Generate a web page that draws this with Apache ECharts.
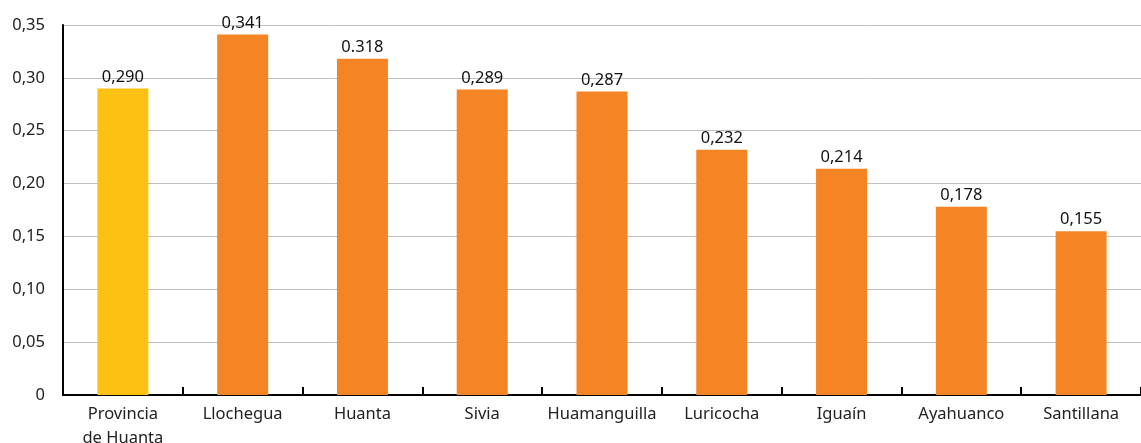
<!DOCTYPE html>
<html>
<head>
<meta charset="utf-8">
<script src="https://cdn.jsdelivr.net/npm/echarts@6/dist/echarts.min.js"></script>
<style>
  html, body { margin: 0; padding: 0; background: #fff; }
  #chart { width: 1141px; height: 443px; }
</style>
</head>
<body>
<div id="chart"></div>
<script>
// categorias (distritos)
var categories = ['Provincia\nde Huanta', 'Llochegua', 'Huanta', 'Sivia', 'Huamanguilla', 'Luricocha', 'Iguaín', 'Ayahuanco', 'Santillana'];
var values = [0.290, 0.341, 0.318, 0.289, 0.287, 0.232, 0.214, 0.178, 0.155];
// etiquetas tal como aparecen (una usa punto)
var valueLabels = ['0,290', '0,341', '0.318', '0,289', '0,287', '0,232', '0,214', '0,178', '0,155'];

var FONT = '"Noto Sans", sans-serif';
var YELLOW = '#FDC113';
var ORANGE = '#F48424';

var myChart = echarts.init(document.getElementById('chart'));

myChart.setOption({
  animation: false,
  grid: { left: 63, right: 0, top: 25, bottom: 48, containLabel: false, outerBoundsMode: 'none' },
  xAxis: {
    type: 'category',
    data: categories,
    axisLine: { lineStyle: { color: '#000', width: 2 } },
    axisTick: { show: true, inside: true, length: 8, lineStyle: { color: '#000', width: 2 } },
    axisLabel: { color: '#222', fontFamily: FONT, fontSize: 16.5, lineHeight: 24, margin: 7, interval: 0 }
  },
  yAxis: {
    type: 'value',
    min: 0,
    max: 0.35,
    interval: 0.05,
    axisLine: { show: true, lineStyle: { color: '#000', width: 2 } },
    axisTick: { show: false },
    splitLine: { lineStyle: { color: '#bfbfbf', width: 1 } },
    axisLabel: {
      color: '#222', fontFamily: FONT, fontSize: 16.5, margin: 18,
      formatter: function (v) {
        if (v === 0) return '0';
        return v.toFixed(2).replace('.', ',');
      }
    }
  },
  series: [{
    type: 'bar',
    barWidth: 51,
    data: values.map(function (v, i) {
      return { value: v, itemStyle: { color: i === 0 ? YELLOW : ORANGE } };
    }),
    label: {
      show: true,
      position: 'top',
      distance: 3,
      color: '#111',
      fontFamily: FONT,
      fontSize: 16.5,
      formatter: function (p) { return valueLabels[p.dataIndex]; }
    }
  }]
});
</script>
</body>
</html>
